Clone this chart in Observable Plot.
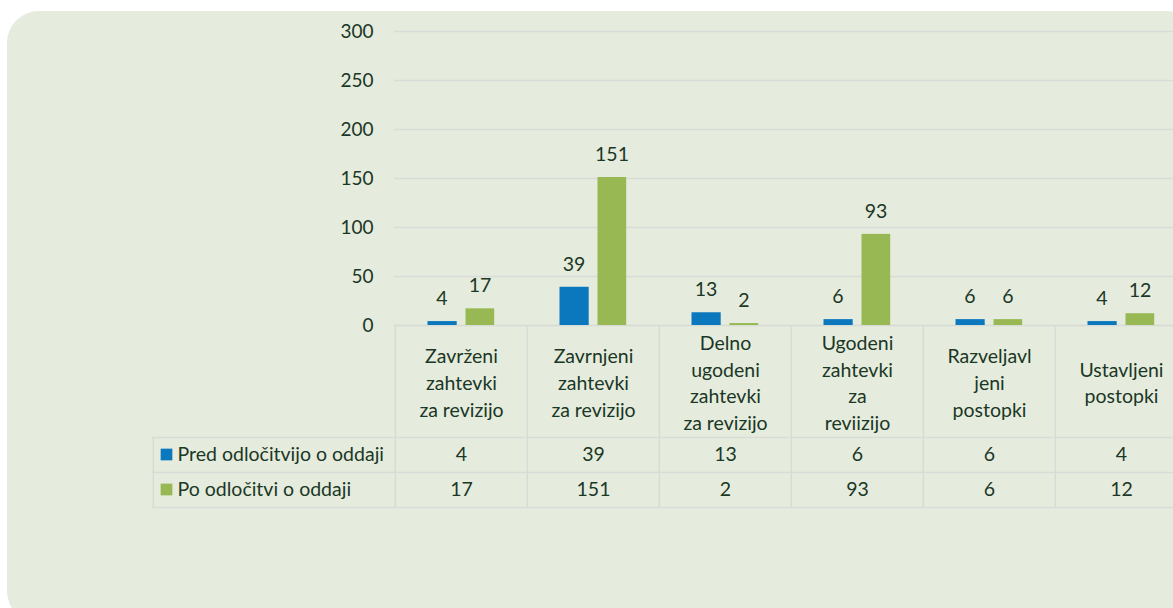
<!DOCTYPE html>
<html>
<head>
<meta charset="utf-8">
<script src="https://cdn.jsdelivr.net/npm/d3@7"></script>
<script src="https://cdn.jsdelivr.net/npm/@observablehq/plot@0.6"></script>
<style>
  html, body { margin: 0; padding: 0; background: #ffffff; overflow: hidden; }
  #wrap { position: relative; width: 1173px; height: 608px; overflow: hidden; }
  #bg { position: absolute; left: 7px; top: 11px; width: 1192px; height: 612px; background: #e5ecdd; border-radius: 32px; }
  #chart { position: absolute; left: 0; top: 0; }
</style>
</head>
<body>
<div id="wrap"><div id="bg"></div><div id="chart"></div></div>
<script>
const categories = [
  "Zavrženi zahtevki za revizijo",
  "Zavrnjeni zahtevki za revizijo",
  "Delno ugodeni zahtevki za revizijo",
  "Ugodeni zahtevki za reviizijo",
  "Razveljavljeni postopki",
  "Ustavljeni postopki"
];
const categoryLabels = [
  "Zavrženi\nzahtevki\nza revizijo",
  "Zavrnjeni\nzahtevki\nza revizijo",
  "Delno\nugodeni\nzahtevki\nza revizijo",
  "Ugodeni\nzahtevki\nza\nreviizijo",
  "Razveljavl\njeni\npostopki",
  "Ustavljeni\npostopki"
];
const seriesNames = ["Pred odločitvijo o oddaji", "Po odločitvi o oddaji"];
const predValues = [4, 39, 13, 6, 6, 4];
const poValues = [17, 151, 2, 93, 6, 12];
const yTicks = [0, 50, 100, 150, 200, 250, 300];

const colors = ["#0b77bd", "#97b853"];
const textColor = "#1b3726";
const lineColor = "#d9dcd6";
const fs = 19.5;

const pred = categories.map((c, i) => ({cat: c, value: predValues[i]}));
const po = categories.map((c, i) => ({cat: c, value: poValues[i]}));
const labels = categories.map((c, i) => ({cat: c, label: categoryLabels[i]}));
const rows = [pred, po];

const W = 1173, H = 608;
const left = 394, right = 1187.8;
const band = (right - left) / categories.length;
const zeroY = 325;
const tableLeft = 152;
const headerBottom = 437, rowH = 35;

const marks = [
  Plot.gridY(yTicks, {stroke: lineColor, strokeOpacity: 1, strokeWidth: 1.5}),
  Plot.axisY(yTicks, {tickSize: 0, tickPadding: 21, fontSize: 19, color: textColor, label: null}),
  // table lines
  Plot.ruleY([0], {stroke: lineColor, strokeWidth: 1.5}),
  ...[0, 1, 2].map(k => Plot.ruleY([0], {stroke: lineColor, strokeWidth: 1.5, dy: headerBottom - zeroY + k * rowH, insetLeft: -(left - tableLeft)})),
  Plot.ruleX(categories, {x: d => d, dx: -band / 2, stroke: lineColor, strokeWidth: 1.5, insetTop: zeroY - 31, insetBottom: -(headerBottom + 2 * rowH - zeroY)}),
  Plot.ruleX([categories[0]], {x: d => d, dx: -band / 2 - (left - tableLeft), stroke: lineColor, strokeWidth: 1.5, insetTop: headerBottom - 31, insetBottom: -(headerBottom + 2 * rowH - zeroY)}),
  // bars
  Plot.barY(pred, {x: "cat", y: "value", fill: colors[0], insetLeft: 32.5, insetRight: band - 62}),
  Plot.barY(po, {x: "cat", y: "value", fill: colors[1], insetLeft: 70.5, insetRight: band - 99.5}),
  // value labels
  Plot.text(pred, {x: "cat", y: "value", text: d => String(d.value), dx: -19.5, dy: -23, fontSize: fs, fill: textColor, lineAnchor: "middle"}),
  Plot.text(po, {x: "cat", y: "value", text: d => String(d.value), dx: 18.5, dy: -23, fontSize: fs, fill: textColor, lineAnchor: "middle"}),
  // category labels
  Plot.text(labels, {x: "cat", text: "label", frameAnchor: "bottom", dy: 56, fontSize: fs, fill: textColor, lineAnchor: "middle", lineHeight: 1.36}),
  // table rows
  ...rows.map((r, k) => Plot.text(r, {x: "cat", text: d => String(d.value), frameAnchor: "bottom", dy: headerBottom - zeroY + rowH * (k + 0.5), fontSize: fs, fill: textColor, lineAnchor: "middle"})),
  ...seriesNames.map((s, k) => Plot.text([s], {text: d => d, frameAnchor: "bottom-left", dx: 177 - left, dy: headerBottom - zeroY + rowH * (k + 0.5), fontSize: fs, fill: textColor, textAnchor: "start", lineAnchor: "middle"})),
  ...seriesNames.map((s, k) => Plot.dot([s], {frameAnchor: "bottom-left", dx: 166 - left, dy: headerBottom - zeroY + rowH * (k + 0.5) - 0.5, symbol: "square", r: 6.6, fill: colors[k], stroke: null}))
];

const chart = Plot.plot({
  width: W,
  height: H,
  marginTop: 31,
  marginBottom: H - zeroY,
  marginLeft: left,
  marginRight: 0,
  style: {background: "transparent", fontFamily: "Lato", overflow: "visible"},
  x: {domain: categories, range: [left, right], padding: 0, axis: null},
  y: {domain: [0, 300], axis: null},
  marks
});
document.getElementById("chart").appendChild(chart);
</script>
</body>
</html>
